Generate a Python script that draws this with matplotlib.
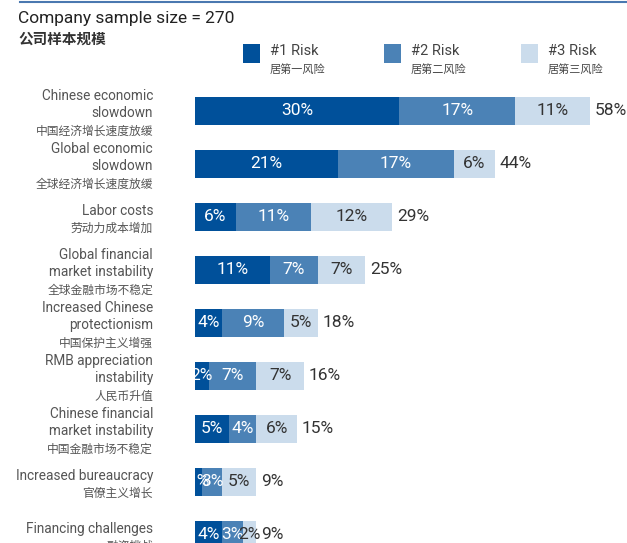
import numpy as np
import matplotlib.pyplot as plt
from matplotlib.patches import Rectangle
from matplotlib.lines import Line2D

plt.rcParams['font.family'] = ['Roboto', 'Noto Sans CJK SC', 'DejaVu Sans']

labels_en = [
    "Chinese economic\nslowdown",
    "Global economic\nslowdown",
    "Labor costs",
    "Global financial\nmarket instability",
    "Increased Chinese\nprotectionism",
    "RMB appreciation\ninstability",
    "Chinese financial\nmarket instability",
    "Increased bureaucracy",
    "Financing challenges",
]
labels_cn = ["中国经济增长速度放缓", "全球经济增长速度放缓", "劳动力成本增加",
             "全球金融市场不稳定", "中国保护主义增强", "人民币升值",
             "中国金融市场不稳定", "官僚主义增长", "融资挑战"]
risk1 = [30, 21, 6, 11, 4, 2, 5, 1, 4]
risk2 = [17, 17, 11, 7, 9, 7, 4, 3, 3]
risk3 = [11, 6, 12, 7, 5, 7, 6, 5, 2]
totals = [58, 44, 29, 25, 18, 16, 15, 9, 9]

legend_en = ["#1 Risk", "#2 Risk", "#3 Risk"]
legend_cn = ["居第一风险", "居第二风险", "居第三风险"]
colors = ["#00509a", "#4b82b6", "#cbdcec"]
text_cols = ["white", "white", "#333333"]
label_col = "#555555"

W, H = 627, 543
fig = plt.figure(figsize=(W / 100, H / 100), dpi=100)

# bars start at x=195px, ~6.81px per percent, first bar centred at y=110px, 53px apart
PX_PCT, ROW = 6.81, 53.0
top_px = 88
ax = fig.add_axes([195 / W, 0, 429 / W, (H - top_px) / H])
ax.set_xlim(0, 429 / PX_PCT)
ax.set_ylim((H - 110.5) / ROW, -(110.5 - top_px) / ROW)
ax.axis("off")

y = np.arange(len(labels_en))
left = np.zeros(len(y))
for vals, c, tc in zip([risk1, risk2, risk3], colors, text_cols):
    vals = np.array(vals, dtype=float)
    ax.barh(y, vals, left=left, height=28 / ROW, color=c, linewidth=0)
    for yi, l, v in zip(y, left, vals):
        ax.text(l + v / 2, yi, f"{int(v)}%", ha="center", va="center",
                color=tc, fontsize=12.5)
    left = left + vals

for yi, t in zip(y, totals):
    ax.text(t + 0.7, yi, f"{t}%", ha="left", va="center",
            color="#333333", fontsize=12.5)

# category labels: english lines then chinese line, 17.5px pitch
pitch = 17.5
lab_x = -42 / PX_PCT
for yi, en, cn in zip(y, labels_en, labels_cn):
    n = en.count("\n") + 1
    yc = yi + 3 / ROW
    ax.text(lab_x, yc - pitch / 2 / ROW, en, ha="right", va="center",
            color=label_col, fontsize=9.8, linespacing=1.25, clip_on=False)
    ax.text(lab_x, yc + n * pitch / 2 / ROW, cn, ha="right", va="center",
            color=label_col, fontsize=8.5, clip_on=False)

# rule across the top
fig.add_artist(Line2D([20 / W, 1], [1 - 2 / H, 1 - 2 / H], color="#4a78b0", lw=1.5))

fig.text(18 / W, 1 - 18 / H, "Company sample size = 270", fontsize=12.5,
         color="#222222", va="center", ha="left")
fig.text(18 / W, 1 - 40 / H, "公司样本规模", fontsize=10.5, fontweight="bold",
         color="#333333", va="center", ha="left")

# legend
for x0, c, en, cn in zip([243, 384, 521], colors, legend_en, legend_cn):
    fig.add_artist(Rectangle((x0 / W, 1 - 63 / H), 17 / W, 19 / H,
                             transform=fig.transFigure, color=c, lw=0))
    fig.text((x0 + 27) / W, 1 - 51 / H, en, fontsize=10.5, color="#444444",
             va="center", ha="left")
    fig.text((x0 + 27) / W, 1 - 69 / H, cn, fontsize=8, color="#444444",
             va="center", ha="left")

fig.savefig("out.png", dpi=100)
